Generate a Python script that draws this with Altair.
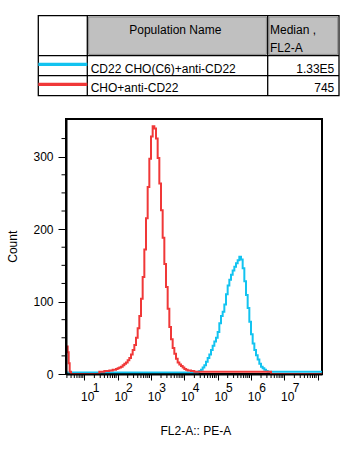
import altair as alt
import pandas as pd
import numpy as np

# ---------------- data (log10 channel position, count) ----------------
series_names = ["CD22 CHO(C6)+anti-CD22", "CHO+anti-CD22"]
medians = ["1.33E5", "745"]
colors = ["#12c3f0", "#f03838"]

blue_pos = [0.45, 4.35, 4.40, 4.45, 4.50, 4.55, 4.60, 4.65, 4.70, 4.75, 4.80, 4.85, 4.90,
            4.95, 5.00, 5.05, 5.10, 5.15, 5.20, 5.25, 5.30, 5.35, 5.40, 5.45, 5.50, 5.55,
            5.60, 5.65, 5.70, 5.75, 5.80, 5.85, 5.90, 5.95, 6.00, 6.05, 6.10, 6.15, 6.20,
            6.25, 6.30, 6.35, 6.40, 6.45, 6.50, 8.13]
blue_count = [2, 2, 3, 4, 6, 9, 12, 17, 22, 27, 33, 39, 45,
              50, 58, 70, 80, 86, 96, 110, 122, 130, 137, 143, 148, 153,
              157, 162, 158, 146, 128, 109, 91, 72, 55, 42, 33, 26, 20,
              14, 10, 8, 6, 4, 3, 2]

red_pos = [0.45, 0.50, 0.53, 0.56, 0.60, 1.45, 1.50, 1.55, 1.60, 1.65, 1.70, 1.75, 1.80,
           1.85, 1.90, 1.95, 2.00, 2.05, 2.10, 2.15, 2.20, 2.25, 2.30, 2.35, 2.40, 2.45,
           2.50, 2.55, 2.60, 2.65, 2.70, 2.75, 2.80, 2.85, 2.90, 2.95, 3.00, 3.05, 3.10,
           3.15, 3.20, 3.25, 3.30, 3.35, 3.40, 3.45, 3.50, 3.55, 3.60, 3.65, 3.70, 3.75,
           3.80, 3.85, 3.90, 3.95, 4.00, 4.05, 4.10, 4.15, 4.20, 4.25, 4.30, 4.35, 6.60, 8.13]
red_count = [38, 30, 15, 3, 0, 3, 3, 3, 4, 4, 4, 5, 5,
             6, 6, 7, 8, 9, 10, 12, 14, 16, 19, 22, 27, 33,
             40, 50, 63, 80, 104, 134, 172, 215, 258, 297, 328, 342, 339,
             325, 298, 263, 226, 188, 152, 120, 90, 65, 48, 36, 28, 21,
             16, 13, 11, 9, 7, 6, 5, 5, 4, 4, 3, 3, 0, 0]

y_major = [0, 100, 200, 300]
y_minor = [25, 50, 75, 125, 150, 175, 225, 250, 275, 325]
x_major = [1, 2, 3, 4, 5, 6, 7, 8]
x_label_exp = ["1", "2", "3", "4", "5", "6", "7"]

# ---------------- layout ----------------
W, H = 256, 255
FONT = "Liberation Sans"
XDOM = [0.45, 8.13]
YDOM = [0, 352]

blue_df = pd.DataFrame({"pos": blue_pos, "count": blue_count, "series": series_names[0]})
red_df = pd.DataFrame({"pos": red_pos, "count": red_count, "series": series_names[1]})

xminor = [d + np.log10(k) for d in range(0, 9) for k in range(2, 10)]
xminor = [v for v in xminor if XDOM[0] <= v <= XDOM[1]]
xminor_df = pd.DataFrame({"pos": xminor})
yminor_df = pd.DataFrame({"count": y_minor})
xlab_df = pd.DataFrame({"pos": [int(e) for e in x_label_exp], "base": ["10"] * len(x_label_exp),
                        "sup": x_label_exp})

x_axis = alt.Axis(values=x_major, tickSize=6, labels=False, title=None, grid=False,
                  domainWidth=2, domainColor="black", tickColor="black", tickWidth=1, zindex=1)
y_axis = alt.Axis(values=y_major, tickSize=8, labelPadding=5, title=None, grid=False,
                  domainWidth=2, domainColor="black", tickColor="black", tickWidth=1,
                  labelFont=FONT, labelFontSize=12, labelColor="black", zindex=1)
xs = alt.Scale(domain=XDOM, nice=False, zero=False)
ys = alt.Scale(domain=YDOM, nice=False)
x_enc = alt.X("pos:Q", scale=xs, axis=x_axis)
y_enc = alt.Y("count:Q", scale=ys, axis=y_axis)

def hist_layer(df, col):
    return alt.Chart(df).mark_line(interpolate="step-after", strokeWidth=2, clip=True,
                                   color=col).encode(x=x_enc, y=y_enc)

blue_line = hist_layer(blue_df, colors[0])
red_line = hist_layer(red_df, colors[1])

xminor_rules = alt.Chart(xminor_df).mark_rule(color="black", strokeWidth=1).encode(
    x=x_enc, y=alt.value(H), y2=alt.value(H + 4))
yminor_rules = alt.Chart(yminor_df).mark_rule(color="black", strokeWidth=1).encode(
    y=y_enc, x=alt.value(-4.5), x2=alt.value(0))

xlab_base = alt.Chart(xlab_df).mark_text(font=FONT, fontSize=12, color="black", align="center",
                                         baseline="middle", dx=3.4).encode(
    x=x_enc, y=alt.value(277.7), text="base:N")
xlab_sup = alt.Chart(xlab_df).mark_text(font=FONT, fontSize=12, color="black", align="center",
                                        baseline="middle", dx=11.7).encode(
    x=x_enc, y=alt.value(269.0), text="sup:N")

one = pd.DataFrame({"a": [0]})

def txt(s, x, y, align="left", baseline="alphabetic", angle=None):
    kw = dict(text=s, font=FONT, fontSize=12, color="black", align=align, baseline=baseline)
    if angle is not None:
        kw["angle"] = angle
    return alt.Chart(one).mark_text(**kw).encode(x=alt.value(x), y=alt.value(y))

def rect(x1, x2, y1, y2, fill, stroke=None, sw=1.0):
    kw = dict(fill=fill)
    if stroke:
        kw.update(stroke=stroke, strokeWidth=sw)
    else:
        kw.update(strokeWidth=0)
    return alt.Chart(one).mark_rect(**kw).encode(
        x=alt.value(x1), x2=alt.value(x2), y=alt.value(y1), y2=alt.value(y2))

def hrule(x1, x2, y, col="black", sw=1.3):
    return alt.Chart(one).mark_rule(color=col, strokeWidth=sw).encode(
        x=alt.value(x1), x2=alt.value(x2), y=alt.value(y))

def vrule(x, y1, y2, col="black", sw=1.3):
    return alt.Chart(one).mark_rule(color=col, strokeWidth=sw).encode(
        x=alt.value(x), y=alt.value(y1), y2=alt.value(y2))

# table (coordinates relative to plot origin)
TL, TR, TT, TB = -27.7, 273.0, -103.3, -23.3
C1, C2 = 21.3, 201.7
R1, R2 = -63.3, -43.3
table = [
    rect(TL, TR, TT, TB, "white", "black", 1.3),
    rect(C1 + 1.3, C2 - 1.3, TT + 1.3, R1 - 1.3, "#c0c0c0", "#8c8c8c", 1),
    rect(C2 + 1.3, TR - 1.3, TT + 1.3, R1 - 1.3, "#c0c0c0", "#8c8c8c", 1),
    vrule(C1, TT, TB), vrule(C2, TT, TB),
    hrule(TL, TR, R1), hrule(TL, TR, R2),
    hrule(TL, C1, -54.7, colors[0], 3.3),
    hrule(TL, C1, -34.7, colors[1], 3.3),
    txt("Population Name", 109.3, -85.3, align="center"),
    txt("Median ,", 204, -85.3),
    txt("FL2-A", 204, -67),
    txt(series_names[0], 24.7, -46.3),
    txt(series_names[1], 24.7, -27.3),
    txt(medians[0], 268.3, -46.3, align="right"),
    txt(medians[1], 268.3, -27.3, align="right"),
]

titles = [
    txt("Count", -53.5, 127.7, align="center", baseline="middle", angle=270),
    txt("FL2-A:: PE-A", 129.8, 312, align="center", baseline="middle"),
]

chart = alt.layer(
    blue_line, red_line, xminor_rules, yminor_rules, xlab_base, xlab_sup, *table, *titles
).properties(
    width=W, height=H,
    autosize=alt.AutoSizeParams(type="none"),
    padding={"left": 66, "top": 119, "right": 29, "bottom": 75},
    background="white",
).configure(font=FONT).configure_view(stroke="black", strokeWidth=2)

chart.save("out.html", embed_options={"renderer": "svg", "actions": False})
